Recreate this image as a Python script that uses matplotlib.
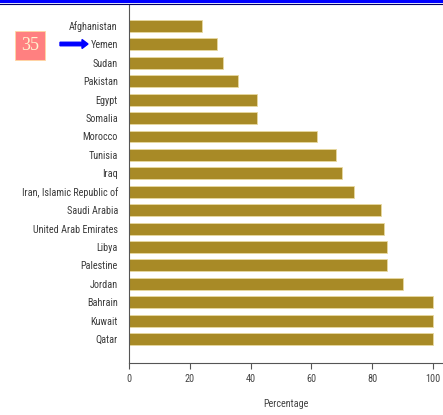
import matplotlib.pyplot as plt
from matplotlib import font_manager
from matplotlib.patches import FancyArrow
from matplotlib.lines import Line2D

# Data (percentage)
countries = ['Afghanistan', 'Yemen', 'Sudan', 'Pakistan', 'Egypt', 'Somalia',
             'Morocco', 'Tunisia', 'Iraq', 'Iran, Islamic Republic of',
             'Saudi Arabia', 'United Arab Emirates', 'Libya', 'Palestine',
             'Jordan', 'Bahrain', 'Kuwait', 'Qatar']
values = [24, 29, 31, 36, 42, 42, 62, 68, 70, 74, 83, 84, 85, 85, 90, 100, 100, 100]
xticks = [0, 20, 40, 60, 80, 100]

# pick a narrow face if one is installed
names = {f.name for f in font_manager.fontManager.ttflist}
fs = 6.8
fam = 'DejaVu Sans'
for cand, size in [('Liberation Sans Narrow', 7.3), ('Roboto Condensed', 7.3), ('Roboto', 6.8)]:
    if cand in names:
        fam, fs = cand, size
        break
plt.rcParams['font.family'] = [fam, 'DejaVu Sans']

fig = plt.figure(figsize=(4.43, 4.15), dpi=100)
ax = fig.add_axes([129 / 443, 52 / 415, 314 / 443, 358 / 415])

ypos = list(range(len(countries)))
ax.barh(ypos, values, height=0.65, color='#a88a26', edgecolor='#e8d9a0', linewidth=0.6)

ax.set_yticks(ypos)
ax.set_yticklabels(countries, fontsize=fs, color='#3a3a3a')
ax.set_xticks(xticks)
ax.set_xticklabels([str(t) for t in xticks], fontsize=fs, color='#444444')
ax.set_xlim(0, 103.3)
ax.set_ylim(18.3, -1.14)
ax.tick_params(axis='y', length=0, pad=8)
ax.tick_params(axis='x', length=4, width=0.8, color='#555555', pad=4)
ax.set_xlabel('Percentage', fontsize=fs, color='#444444', labelpad=11)

for s in ['top', 'right']:
    ax.spines[s].set_visible(False)
for s in ['left', 'bottom']:
    ax.spines[s].set_color('#555555')
    ax.spines[s].set_linewidth(0.8)

# blue band at the top of the slide
fig.add_artist(Line2D([0, 1], [1 - 1.5 / 415, 1 - 1.5 / 415], color='#0000ff', lw=3))
fig.add_artist(Line2D([0, 1], [1 - 3.8 / 415, 1 - 3.8 / 415], color='#000066', lw=0.8))

# page number box and arrow
fig.text(30 / 443, 1 - 45.5 / 415, '35', fontsize=13, color='#fff4d0',
         family='Liberation Serif', ha='center', va='center',
         bbox=dict(boxstyle='square,pad=0.35', fc='#ff8080', ec='#ffd8a0', lw=0.6))
fig.add_artist(FancyArrow(60 / 443, 1 - 44 / 415, 28 / 443, 0, width=3.5 / 415,
                          head_width=9 / 415, head_length=6 / 443,
                          length_includes_head=True, color='#0000ff',
                          transform=fig.transFigure))

fig.savefig('out.png', dpi=100, facecolor='white')
